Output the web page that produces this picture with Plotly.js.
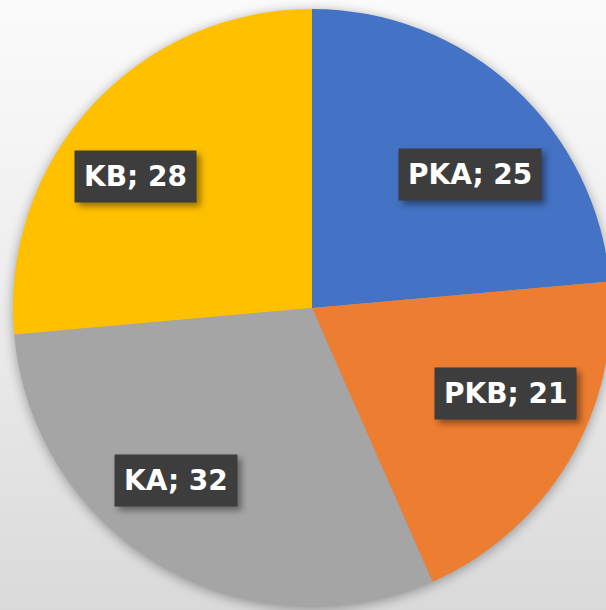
<!DOCTYPE html>
<html>
<head>
<meta charset="utf-8">
<script src="https://cdn.plot.ly/plotly-3.0.1.min.js"></script>
<style>
  html, body { margin: 0; padding: 0; overflow: hidden; width: 606px; height: 610px; }
  body { background: linear-gradient(180deg, #fbfbfb 0%, #eeeeee 45%, #dadada 100%); }
  #chart { width: 624px; height: 610px; }
  .pielayer { filter: drop-shadow(0px 2px 6px rgba(0,0,0,0.35)); }
  .annotation rect.bg { filter: drop-shadow(4px 4px 3px rgba(0,0,0,0.4)); }
</style>
</head>
<body>
<div id="chart"></div>
<script>
// Data
const categories = ["PKA", "PKB", "KA", "KB"];
const values = [25, 21, 32, 28];
const colors = ["#4472C4", "#ED7D31", "#A5A5A5", "#FFC000"];

// Label box positions (paper coordinates) – layout only
const labelPos = [[0.764, 0.723], [0.823, 0.357], [0.272, 0.211], [0.205, 0.720]];

const trace = {
  type: "pie",
  labels: categories,
  values: values,
  sort: false,
  direction: "clockwise",
  rotation: 0,
  marker: { colors: colors, line: { width: 0 } },
  textinfo: "none",
  hoverinfo: "label+value",
  showlegend: false,
  domain: { x: [0, 1], y: [0, 1] }
};

const labelFont = { family: "DejaVu Sans, Liberation Sans, sans-serif", size: 28, color: "#ffffff", weight: "bold" };
const annotations = categories.map((c, i) => ({
  xref: "paper", yref: "paper", x: labelPos[i][0], y: labelPos[i][1],
  xanchor: "center", yanchor: "middle", showarrow: false,
  text: "<b>" + c + "; " + values[i] + "</b>", font: labelFont,
  bgcolor: "#3d3d3d", borderpad: 9
}));

const layout = {
  width: 624, height: 610,
  margin: { l: 13, r: 13, t: 9, b: 3 },
  paper_bgcolor: "rgba(0,0,0,0)",
  plot_bgcolor: "rgba(0,0,0,0)",
  annotations: annotations
};

Plotly.newPlot("chart", [trace], layout, { displayModeBar: false, staticPlot: true });
</script>
</body>
</html>
